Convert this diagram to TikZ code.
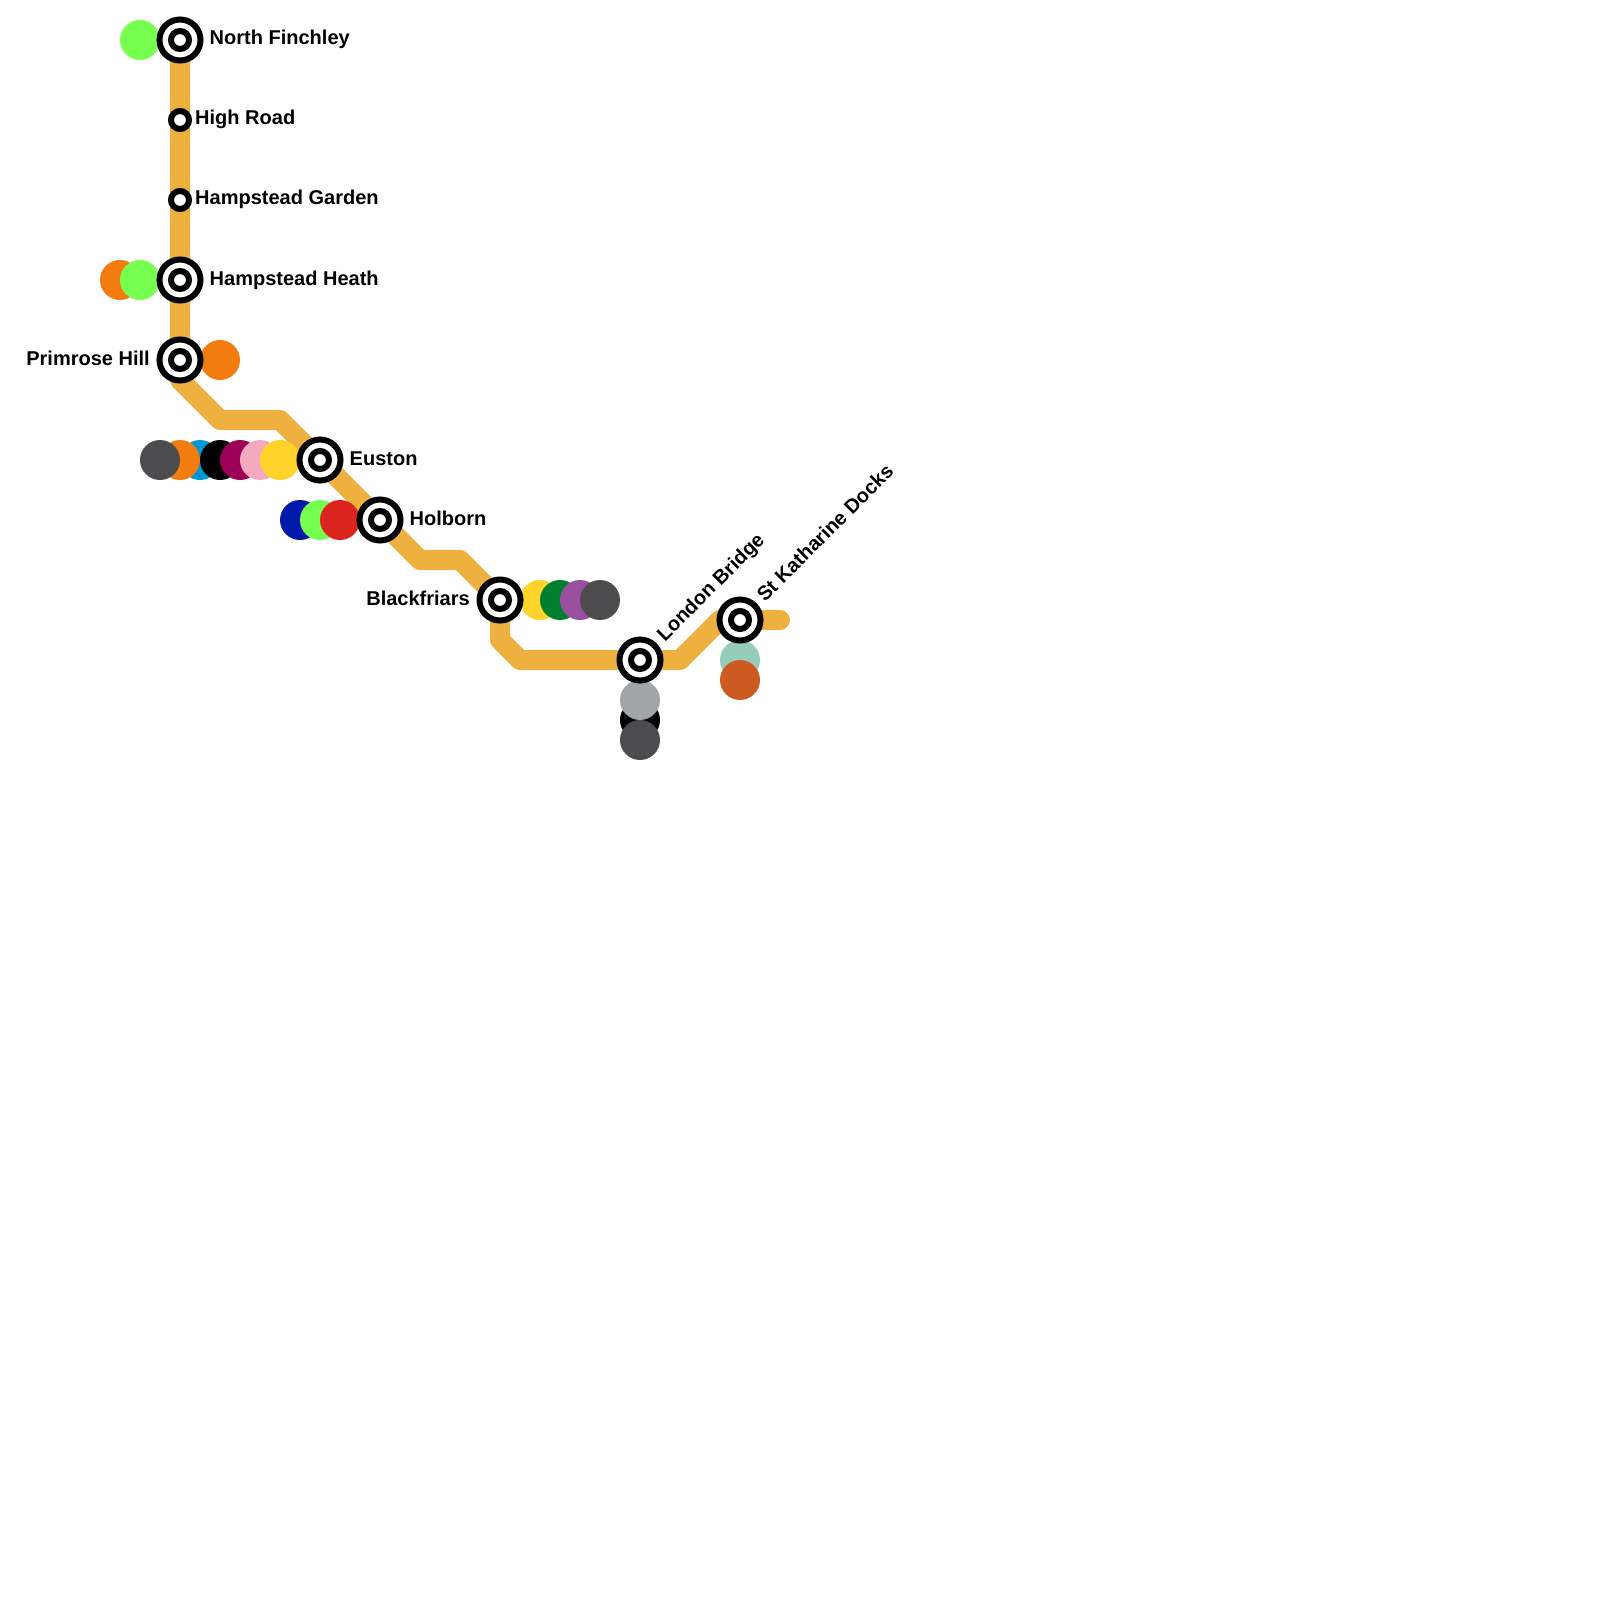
\documentclass[tikz,border=0pt]{standalone}
\usepackage{fontspec}
\setmainfont{Liberation Sans}
\usetikzlibrary{backgrounds}
\definecolor{lineamber}{HTML}{EEB03E}
\definecolor{lime}{HTML}{76FF4F}
\definecolor{overground}{HTML}{F27C10}
\definecolor{slate}{HTML}{4C4B4D}
\definecolor{victoria}{HTML}{0098D4}
\definecolor{metro}{HTML}{9B0056}
\definecolor{hammer}{HTML}{F4A9BE}
\definecolor{circleline}{HTML}{FFD329}
\definecolor{picc}{HTML}{0019A8}
\definecolor{central}{HTML}{DC241F}
\definecolor{district}{HTML}{00802F}
\definecolor{crossrail}{HTML}{9B4F9F}
\definecolor{jubilee}{HTML}{A0A5A9}
\definecolor{waterloo}{HTML}{95CDBA}
\definecolor{rust}{HTML}{CC5A21}
\tikzset{
  stationring/.style={circle, draw=black, fill=white, line width=.06cm, inner sep=0pt},
  hubring/.style={stationring, minimum size=.41cm},
  stopring/.style={stationring, minimum size=.18cm},
  stationname/.style={inner sep=0pt, font=\fontsize{5.69}{7}\selectfont\bfseries},
  route/.style={draw=lineamber, line width=.2cm, line cap=round, line join=round}
}
\begin{document}
\begin{tikzpicture}[x=.01cm, y=-.01cm]
    \useasboundingbox (0,0) rectangle (1600,1600);
    % stations
    \foreach \n/\x/\y in {finchley/180/40, heath/180/280, primrose/180/360, euston/320/460, holborn/380/520, blackfriars/500/600, london/640/660, katharine/740/620} {
        \node[hubring] (\n) at (\x,\y) {};
        \node[stopring] (\n-core) at (\n) {};
    }
    \node[stopring] (highroad) at (180,120) {};
    \node[stopring] (garden) at (180,200) {};
    % labels
    \node[stationname, anchor=base west] (finchley-name) at (209,45) {North Finchley};
    \node[stationname, anchor=base west] (highroad-name) at (194.5,125) {High Road};
    \node[stationname, anchor=base west] (garden-name) at (194.5,205) {Hampstead Garden};
    \node[stationname, anchor=base west] (heath-name) at (209,285) {Hampstead Heath};
    \node[stationname, anchor=base east] (primrose-name) at (150.5,365) {Primrose Hill};
    \node[stationname, anchor=base west] (euston-name) at (349,465) {Euston};
    \node[stationname, anchor=base west] (holborn-name) at (409,525) {Holborn};
    \node[stationname, anchor=base east] (blackfriars-name) at (470.5,605) {Blackfriars};
    \node[stationname, anchor=base west, rotate=45] (london-name) at (664.5,642.5) {London Bridge};
    \node[stationname, anchor=base west, rotate=45] (katharine-name) at (764.5,603) {St Katharine Docks};
    % bends
    \coordinate (b1) at (180,380);
    \coordinate (b2) at (220,420);
    \coordinate (b3) at (280,420);
    \coordinate (b4) at (420,560);
    \coordinate (b5) at (460,560);
    \coordinate (b6) at (500,640);
    \coordinate (b7) at (520,660);
    \coordinate (b8) at (680,660);
    \coordinate (b9) at (720,620);
    \coordinate (tail) at (780,620);
    \begin{pgfonlayer}{background}
        \draw[route] (finchley.center) -- (primrose.center) -- (b1) -- (b2) -- (b3) -- (euston.center) -- (holborn.center) -- (b4) -- (b5) -- (blackfriars.center) -- (b6) -- (b7) -- (london.center) -- (b8) -- (b9) -- (katharine.center) -- (tail);
        % interchange dots
        \foreach \c/\x/\y in {lime/140/40, overground/120/280, lime/140/280, overground/220/360,
            victoria/200/460, overground/180/460, slate/160/460, black/220/460, metro/240/460, hammer/260/460, circleline/280/460,
            picc/300/520, lime/320/520, central/340/520,
            circleline/540/600, district/560/600, crossrail/580/600, slate/600/600,
            black/640/720, jubilee/640/700, slate/640/740,
            waterloo/740/660, rust/740/680} {
            \fill[\c] (\x,\y) circle (20);
        }
    \end{pgfonlayer}
\end{tikzpicture}
\end{document}
